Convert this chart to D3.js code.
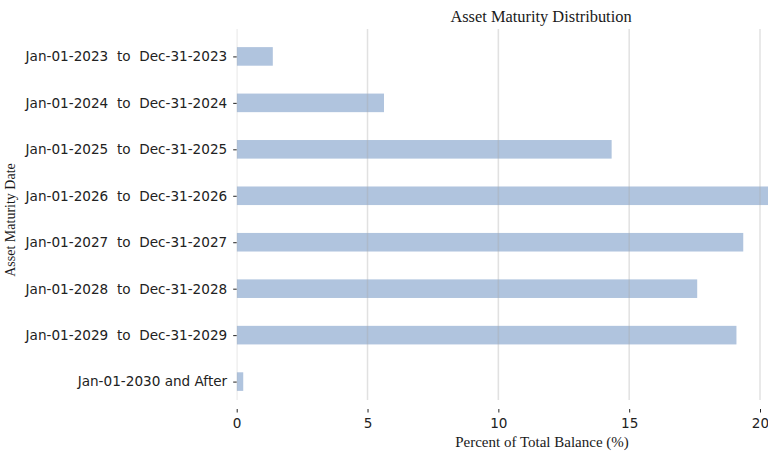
<!DOCTYPE html>
<html>
<head>
<meta charset="utf-8">
<script src="https://cdn.jsdelivr.net/npm/d3@7"></script>
<style>
  body { margin: 0; background: #fff; }
  svg { display: block; }
  .tick text { font-family: "DejaVu Sans", sans-serif; font-size: 13.6px; fill: #222; white-space: pre; }
  .serif { font-family: "Liberation Serif", "Times New Roman", serif; fill: #1a1a1a; }
</style>
</head>
<body>
<svg width="768" height="454"></svg>
<script>
'use strict';
var categories = [
  "Jan-01-2023  to  Dec-31-2023",
  "Jan-01-2024  to  Dec-31-2024",
  "Jan-01-2025  to  Dec-31-2025",
  "Jan-01-2026  to  Dec-31-2026",
  "Jan-01-2027  to  Dec-31-2027",
  "Jan-01-2028  to  Dec-31-2028",
  "Jan-01-2029  to  Dec-31-2029",
  "Jan-01-2030 and After"
];
var values = [1.38, 5.63, 14.33, 20.6, 19.36, 17.6, 19.1, 0.25];
var xTicks = [0, 5, 10, 15, 20];

(function() {
  var svg = d3.select("svg"),
      plotLeft = 236.7, plotTop = 29, plotBottom = 409;

  // 0..20 spans 236.7..760 px; the axis runs past the right edge
  var x = d3.scaleLinear().domain([0, 20]).range([plotLeft, 760]);
  var y = d3.scaleLinear().domain([-0.59, 7.59]).range([plotTop, plotBottom]);
  var barH = (y(1) - y(0)) * 0.4;

  svg.append("defs").append("clipPath").attr("id", "clip")
    .append("rect").attr("x", plotLeft).attr("y", plotTop)
    .attr("width", 768 - plotLeft).attr("height", plotBottom - plotTop);

  var plot = svg.append("g").attr("clip-path", "url(#clip)");

  plot.selectAll(".bar")
    .data(values)
    .enter().append("rect")
      .attr("class", "bar")
      .attr("x", x(0))
      .attr("y", function(d, i) { return y(i) - barH / 2; })
      .attr("width", function(d) { return x(d) - x(0); })
      .attr("height", barH)
      .attr("fill", "#b0c4de");

  // grid lines sit on top of the bars
  plot.selectAll(".grid")
    .data(xTicks)
    .enter().append("line")
      .attr("class", "grid")
      .attr("x1", function(d) { return x(d); })
      .attr("x2", function(d) { return x(d); })
      .attr("y1", plotTop)
      .attr("y2", 400)
      .attr("stroke", "#a8a8a8")
      .attr("stroke-opacity", 0.35)
      .attr("stroke-width", 1.5);

  var xAxis = svg.append("g")
    .attr("transform", "translate(0," + plotBottom + ")")
    .call(d3.axisBottom(x).tickValues(xTicks).tickSize(3.5).tickPadding(6));
  xAxis.select(".domain").remove();

  var yAxis = svg.append("g")
    .attr("transform", "translate(" + plotLeft + ",0)")
    .call(d3.axisLeft(y).tickValues(d3.range(categories.length))
      .tickFormat(function(i) { return categories[i]; }).tickSize(3.5).tickPadding(6));
  yAxis.select(".domain").remove();
  svg.selectAll(".tick line").attr("stroke", "#222").attr("stroke-width", 1);

  svg.append("text").attr("class", "serif")
    .attr("x", 541).attr("y", 22).attr("text-anchor", "middle")
    .style("font-size", "16.4px")
    .text("Asset Maturity Distribution");

  svg.append("text").attr("class", "serif")
    .attr("x", 542).attr("y", 447).attr("text-anchor", "middle")
    .style("font-size", "15px")
    .text("Percent of Total Balance (%)");

  svg.append("text").attr("class", "serif")
    .attr("transform", "translate(15,220) rotate(-90)")
    .attr("text-anchor", "middle")
    .style("font-size", "14px")
    .text("Asset Maturity Date");
})();
</script>
</body>
</html>
